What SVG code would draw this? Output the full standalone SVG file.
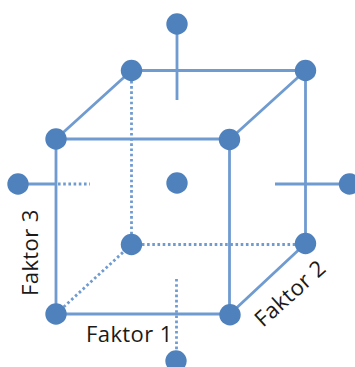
<svg xmlns="http://www.w3.org/2000/svg" width="355" height="367" viewBox="0 0 355 367">
<style>
.s{stroke:#6f9bd0;stroke-width:2.8;fill:none}
.d{stroke:#6f9bd0;stroke-width:2.8;fill:none;stroke-dasharray:2.6 2.6}
.n{fill:#4f81bd}
.t{font-family:"Open Sans","Liberation Sans",sans-serif;font-size:22px;letter-spacing:.4px;fill:#1a1a1a}
</style>
<rect width="355" height="367" fill="#fff"/>
<g id="connectors">
<path class="s" d="M131.500 70.500H305.500M56 139H229.500M56 139V314H230M229.500 139.500V314M305.500 70.500V243.500M56 139L131.500 70.500M229.500 139.500L305.500 70.500M230 314L305.500 243.500M177 24V100M18 184H56M275 184H349"/>
<path class="d" d="M131.500 70.500V244.500M131.500 244.500H305.500M56 314L131.500 244.500M58 184H90M176.500 279V361"/>
</g>
<g id="node-top"><circle class="n" cx="177" cy="24" r="10.700"/></g>
<g id="node-back-top-left"><circle class="n" cx="131.500" cy="70.500" r="10.700"/></g>
<g id="node-back-top-right"><circle class="n" cx="305.500" cy="70.500" r="10.700"/></g>
<g id="node-front-top-left"><circle class="n" cx="56" cy="139" r="10.700"/></g>
<g id="node-front-top-right"><circle class="n" cx="229.500" cy="139.500" r="10.700"/></g>
<g id="node-left"><circle class="n" cx="18" cy="184" r="10.700"/></g>
<g id="node-center"><circle class="n" cx="177" cy="183" r="10.700"/></g>
<g id="node-right"><circle class="n" cx="349.500" cy="184" r="10.700"/></g>
<g id="node-back-bottom-left"><circle class="n" cx="131.500" cy="244.500" r="10.700"/></g>
<g id="node-back-bottom-right"><circle class="n" cx="305.500" cy="243.500" r="10.700"/></g>
<g id="node-front-bottom-left"><circle class="n" cx="56" cy="314" r="10.700"/></g>
<g id="node-front-bottom-right"><circle class="n" cx="230" cy="314.700" r="10.700"/></g>
<g id="node-bottom"><circle class="n" cx="176" cy="361" r="10.700"/></g>
<g id="labels">
<text class="t" x="86" y="342">Faktor 1</text>
<text class="t" transform="translate(263 328) rotate(-42)">Faktor 2</text>
<text class="t" transform="translate(38 296) rotate(-90)">Faktor 3</text>
</g>
</svg>
